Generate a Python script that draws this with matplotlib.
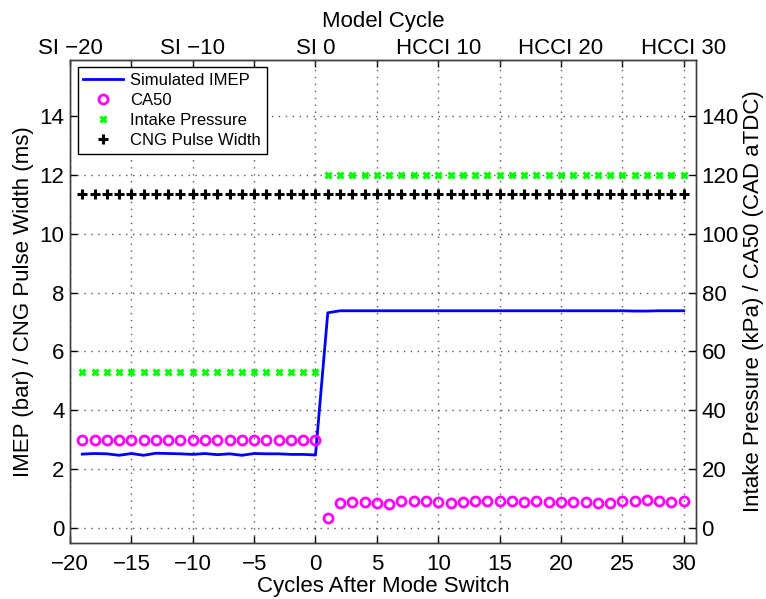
import numpy as np
import matplotlib
matplotlib.use("Agg")
import matplotlib.pyplot as plt
from matplotlib.lines import Line2D

plt.rcParams['font.family'] = ['Liberation Sans', 'DejaVu Sans']

# Cycle index relative to the SI -> HCCI mode switch
cycles = np.arange(-19, 31)

# Simulated IMEP (bar)
imep = [2.51, 2.53, 2.52, 2.47, 2.53, 2.47, 2.54, 2.53, 2.52, 2.50,
        2.53, 2.49, 2.52, 2.47, 2.53, 2.52, 2.52, 2.50, 2.50, 2.48,
        7.31, 7.38, 7.38, 7.38, 7.38, 7.38, 7.38, 7.38, 7.38, 7.38,
        7.38, 7.38, 7.38, 7.38, 7.38, 7.38, 7.38, 7.38, 7.38, 7.38,
        7.38, 7.38, 7.38, 7.38, 7.38, 7.37, 7.37, 7.38, 7.38, 7.38]

# CNG pulse width (ms)
cng_pw = [11.35] * 50

# Intake pressure (kPa)
intake_p = [53.1] * 20 + [120.0] * 30

# CA50 (CAD aTDC)
ca50 = [30.0] * 20 + [
    3.4, 8.5, 8.8, 8.8, 8.4, 8.25, 9.0, 9.15, 9.0, 8.8,
    8.5, 8.9, 9.0, 9.3, 9.0, 9.0, 8.9, 9.0, 8.9, 8.8,
    8.8, 8.9, 8.6, 8.5, 9.0, 9.15, 9.4, 9.15, 8.8, 9.15]

bottom_ticks = np.arange(-20, 31, 5)
top_tick_labels = ['SI \u221220', '', 'SI \u221210', '', 'SI 0', '',
                   'HCCI 10', '', 'HCCI 20', '', 'HCCI 30']
left_ticks = np.arange(0, 15, 2)
right_ticks = np.arange(0, 141, 20)

FS = 16

fig = plt.figure(figsize=(7.66, 5.99), dpi=100)
ax = fig.add_axes([70/766, 1 - 542.7/599, (696-70)/766, (542.7-60)/599])
ax2 = ax.twinx()

ax.plot(cycles, imep, color=(0, 0, 1), lw=2, zorder=3)
ax.plot(cycles, cng_pw, ls='none', marker='+', ms=7, mew=2.2, color='k', zorder=3)
ax2.plot(cycles, intake_p, ls='none', marker='x', ms=5, mew=2.2, color=(0, 1, 0), zorder=3)
ax2.plot(cycles, ca50, ls='none', marker='o', ms=6.5, mew=2, mfc='none', mec=(1, 0, 1), zorder=3)

ax.set_xlim(-20, 31)
ax.set_ylim(-0.5, 15.9)
ax2.set_ylim(-5, 159)

ax.set_xticks(bottom_ticks)
ax.set_yticks(left_ticks)
ax2.set_yticks(right_ticks)

ax.grid(True, which='major', ls=(0, (1, 4)), lw=1, color='0.35')

for a in (ax, ax2):
    a.tick_params(direction='in', length=5, width=1, labelsize=FS, pad=4)
    for s in a.spines.values():
        s.set_linewidth(1)
        s.set_color('0.25')
ax.tick_params(axis='x', pad=8)

top = ax.secondary_xaxis('top')
top.set_xticks(bottom_ticks)
top.set_xticklabels(top_tick_labels)
top.tick_params(direction='in', length=5, width=1, labelsize=FS, pad=1)
top.set_xlabel('Model Cycle', fontsize=FS, labelpad=7.5)

ax.set_xlabel('Cycles After Mode Switch', fontsize=FS, labelpad=0.5)
ax.set_ylabel('IMEP (bar) / CNG Pulse Width (ms)', fontsize=FS, labelpad=4)
ax2.set_ylabel('Intake Pressure (kPa) / CA50 (CAD aTDC)', fontsize=FS, labelpad=3)

handles = [
    Line2D([], [], color=(0, 0, 1), lw=2),
    Line2D([], [], ls='none', marker='o', ms=6.5, mew=2, mfc='none', mec=(1, 0, 1)),
    Line2D([], [], ls='none', marker='x', ms=5, mew=2.2, color=(0, 1, 0)),
    Line2D([], [], ls='none', marker='+', ms=7, mew=2.2, color='k'),
]
labels = ['Simulated IMEP', 'CA50', 'Intake Pressure', 'CNG Pulse Width']
leg = ax2.legend(handles, labels, loc='upper left', fontsize=12, frameon=True,
                 fancybox=False, shadow=False, framealpha=1, edgecolor='k',
                 borderaxespad=0.45, labelspacing=0.3, handlelength=2.4,
                 handletextpad=0.4, borderpad=0.35)
leg.get_frame().set_linewidth(1)

fig.savefig('out.png', dpi=100)
